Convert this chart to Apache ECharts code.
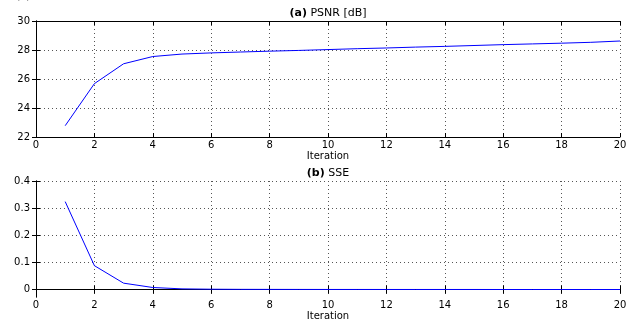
<!DOCTYPE html>
<html><head><meta charset="utf-8">
<style>html,body{margin:0;padding:0;background:#fff}#c{width:637px;height:324px}</style>
<script src="https://cdn.jsdelivr.net/npm/echarts@6/dist/echarts.min.js"></script>
</head><body><div id="c"></div>
<script>
const iterations = [1,2,3,4,5,6,7,8,9,10,11,12,13,14,15,16,17,18,19,20];
const psnr = [22.78,25.68,27.05,27.55,27.72,27.80,27.86,27.92,27.97,28.03,28.09,28.14,28.20,28.25,28.31,28.37,28.42,28.47,28.53,28.62];
const sse = [0.324,0.088,0.0235,0.0075,0.0025,0.0012,0.0007,0.0005,0.0004,0.0003,0.0003,0.0002,0.0002,0.0002,0.0002,0.0001,0.0001,0.0001,0.0001,0.0001];
const psnrTicks = [22,24,26,28,30];
const sseTicks = [0,0.1,0.2,0.3,0.4];
const titleA = ['(a)', 'PSNR [dB]'];
const titleB = ['(b)', 'SSE'];
const xLabel = 'Iteration';

const FONT = 'DejaVu Sans';
const txt = {color:'#000', fontFamily:FONT, fontSize:10};
const grid = {color:'#555', type:[1,3], width:1};

function xAxes(gi){
  return [
    {gridIndex:gi, type:'value', min:0, max:20, interval:2, position:'bottom',
     axisLine:{lineStyle:{color:'#000',width:1}},
     axisTick:{inside:true,length:4,lineStyle:{color:'#000'}},
     axisLabel:Object.assign({margin:3}, txt),
     splitLine:{show:true,lineStyle:grid},
     name:xLabel, nameLocation:'middle', nameGap:14, nameTextStyle:txt},
    {gridIndex:gi, type:'value', min:0, max:20, interval:2, position:'top',
     axisLine:{lineStyle:{color:'#000',width:1}},
     axisTick:{inside:true,length:4,lineStyle:{color:'#000'}},
     axisLabel:{show:false}, splitLine:{show:false}}
  ];
}
const richT = {b:{fontFamily:FONT,fontSize:11,fontWeight:'bold',color:'#000'},
               n:{fontFamily:FONT,fontSize:11,fontWeight:'normal',color:'#000'}};

const option = {
  animation:false,
  backgroundColor:'#fff',
  title:[
    {text:'{b|'+titleA[0]+'}{n| '+titleA[1]+'}', left:328, top:8, padding:0, textAlign:'center',
     textStyle:{fontWeight:'normal', rich:richT}},
    {text:'{b|'+titleB[0]+'}{n| '+titleB[1]+'}', left:328, top:168, padding:0, textAlign:'center',
     textStyle:{fontWeight:'normal', rich:richT}}
  ],
  graphic:[{type:'text', left:16, top:-9, style:{text:'(c)', fontFamily:FONT, fontSize:11, fill:'#000'}}],
  grid:[
    {left:36, right:17, top:21, height:116},
    {left:36, right:17, top:181, height:116}
  ],
  xAxis:[...xAxes(0), ...xAxes(1)],
  yAxis:[
    {gridIndex:0, type:'value', min:psnrTicks[0], max:psnrTicks[psnrTicks.length-1], interval:2,
     axisLine:{show:true,lineStyle:{color:'#000'}},
     axisTick:{show:true,inside:true,length:4,lineStyle:{color:'#000'}},
     axisLabel:Object.assign({margin:6}, txt),
     splitLine:{show:true,lineStyle:grid}},
    {gridIndex:0, type:'value', min:psnrTicks[0], max:psnrTicks[psnrTicks.length-1], interval:2, position:'right',
     axisLine:{show:true,lineStyle:{color:'#000'}},
     axisTick:{show:true,inside:true,length:4,lineStyle:{color:'#000'}},
     axisLabel:{show:false}, splitLine:{show:false}},
    {gridIndex:1, type:'value', min:-0.0275, max:0.4,
     axisLine:{show:true,lineStyle:{color:'#000'}},
     axisTick:{show:true,inside:true,length:4,lineStyle:{color:'#000'},customValues:sseTicks},
     axisLabel:Object.assign({margin:6,customValues:sseTicks}, txt),
     splitLine:{show:true,lineStyle:grid}},
    {gridIndex:1, type:'value', min:-0.0275, max:0.4, position:'right',
     axisLine:{show:true,lineStyle:{color:'#000'}},
     axisTick:{show:true,inside:true,length:4,lineStyle:{color:'#000'},customValues:sseTicks},
     axisLabel:{show:false}, splitLine:{show:false}}
  ],
  series:[
    {type:'line', xAxisIndex:0, yAxisIndex:0, data:iterations.map((x,i)=>[x,psnr[i]]),
     showSymbol:false, lineStyle:{color:'#0000ff',width:1}},
    {type:'line', xAxisIndex:2, yAxisIndex:2, data:iterations.map((x,i)=>[x,sse[i]]),
     showSymbol:false, lineStyle:{color:'#0000ff',width:1}}
  ]
};
const chart = echarts.init(document.getElementById('c'), null, {renderer:'canvas'});
chart.setOption(option);
</script></body></html>
